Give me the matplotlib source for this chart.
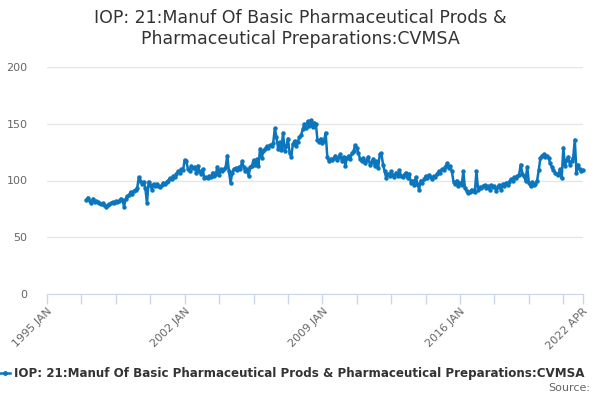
import matplotlib
matplotlib.use("Agg")
import matplotlib.pyplot as plt
from matplotlib.lines import Line2D
import numpy as np

series_name = "IOP: 21:Manuf Of Basic Pharmaceutical Prods & Pharmaceutical Preparations:CVMSA"
title = "IOP: 21:Manuf Of Basic Pharmaceutical Prods &\nPharmaceutical Preparations:CVMSA"
start_year = 1997  # monthly data starting Jan 1997, ending Apr 2022

values = [
    83, 85, 82, 80, 84, 81, 82, 81, 80, 79, 80, 78,            # 1997
    77, 78, 79, 80, 81, 80, 82, 81, 82, 84, 83, 77,            # 1998
    84, 86, 87, 90, 88, 91, 92, 93, 103, 100, 97, 99,          # 1999
    93, 80, 99, 96, 92, 97, 95, 97, 95, 94, 96, 98,            # 2000
    97, 99, 100, 102, 101, 104, 103, 106, 108, 107, 110, 109,  # 2001
    118, 117, 110, 108, 113, 111, 112, 107, 113, 108, 106, 110,  # 2002
    102, 103, 102, 104, 103, 107, 104, 106, 112, 105, 110, 108,  # 2003
    110, 112, 122, 108, 98, 107, 110, 111, 109, 112, 110, 117,   # 2004
    112, 108, 110, 104, 112, 113, 118, 114, 119, 113, 128, 120,  # 2005
    126, 128, 130, 129, 131, 130, 133, 146, 138, 128, 134, 127,  # 2006
    142, 126, 130, 137, 124, 121, 132, 135, 130, 134, 138, 140,  # 2007
    145, 150, 146, 152, 148, 153, 147, 151, 150, 136, 134, 137,  # 2008
    133, 135, 142, 121, 117, 119, 118, 120, 122, 118, 121, 123,  # 2009
    117, 121, 113, 120, 122, 119, 124, 126, 131, 129, 124, 119,  # 2010
    117, 120, 115, 118, 121, 114, 116, 119, 113, 117, 111, 123,  # 2011
    124, 114, 108, 102, 106, 104, 108, 105, 103, 107, 104, 109,  # 2012
    104, 103, 105, 107, 102, 106, 98, 100, 96, 103, 97, 92,      # 2013
    100, 98, 101, 104, 102, 105, 103, 101, 104, 103, 106, 108,   # 2014
    107, 110, 109, 112, 115, 111, 113, 108, 99, 97, 100, 95,     # 2015
    98, 96, 108, 93, 91, 89, 90, 92, 91, 90, 108, 92,            # 2016
    94, 93, 95, 96, 93, 95, 92, 96, 94, 95, 91, 94,              # 2017
    96, 92, 97, 95, 98, 96, 99, 101, 100, 103, 102, 104,         # 2018
    105, 114, 106, 104, 100, 112, 98, 95, 99, 96, 97, 100,       # 2019
    109, 120, 122, 123, 121, 122, 120, 115, 112, 109, 107, 106,  # 2020
    105, 110, 102, 129, 113, 118, 121, 114, 117, 120, 136, 107,  # 2021
    114, 110, 108, 109,                                          # 2022
]

major_ticks = [1995.0, 2002.0, 2009.0, 2016.0, 2022.25]
major_labels = ["1995 JAN", "2002 JAN", "2009 JAN", "2016 JAN", "2022 APR"]
y_ticks = [0, 50, 100, 150, 200]

x = start_year + np.arange(len(values)) / 12.0

line_color = "#0b76bd"
fig = plt.figure(figsize=(6, 4), dpi=100)
ax = fig.add_axes([47/600, 1-294/400, (583-47)/600, (294-67)/400])

ax.plot(x, values, color=line_color, lw=1.8, marker="o", markersize=3.2,
        markeredgewidth=0, solid_joinstyle="round", clip_on=False)

ax.set_xlim(1995.0, 2022.25)
ax.set_ylim(0, 200)
ax.set_yticks(y_ticks)
ax.set_yticklabels([str(v) for v in y_ticks])
ax.yaxis.grid(True, color="#e6e6e6", lw=1)
ax.set_axisbelow(True)

minor = list(1995.0 + 1.75*np.arange(16)) + [2022.25]
ax.set_xticks(minor, minor=True)
ax.set_xticks(major_ticks)
ax.set_xticklabels(major_labels, rotation=45, ha="right", rotation_mode="anchor")

for s in ["top", "right", "left"]:
    ax.spines[s].set_visible(False)
ax.spines["bottom"].set_color("#ccd6eb")
ax.tick_params(axis="y", length=0, labelsize=8, labelcolor="#666666", pad=14)
ax.tick_params(axis="x", which="both", length=7, color="#ccd6eb", width=1,
               labelsize=8, labelcolor="#666666", pad=2)

fig.text(0.5, 0.977, title, ha="center", va="top", fontsize=12.5,
         color="#333333", linespacing=1.2)

leg_y = 1 - 373/400
fig.add_artist(Line2D([0/600, 10/600], [leg_y, leg_y], color=line_color, lw=1.8,
                      transform=fig.transFigure))
fig.add_artist(Line2D([5/600], [leg_y], color=line_color, marker="o", markersize=3.5,
                      markeredgewidth=0, transform=fig.transFigure))
fig.text(14/600, leg_y, series_name, ha="left", va="center", fontsize=8.6,
         fontweight="bold", color="#333333")
fig.text(590/600, 1-388/400, "Source:", ha="right", va="center", fontsize=8,
         color="#666666")

fig.savefig("out.png", dpi=100)
